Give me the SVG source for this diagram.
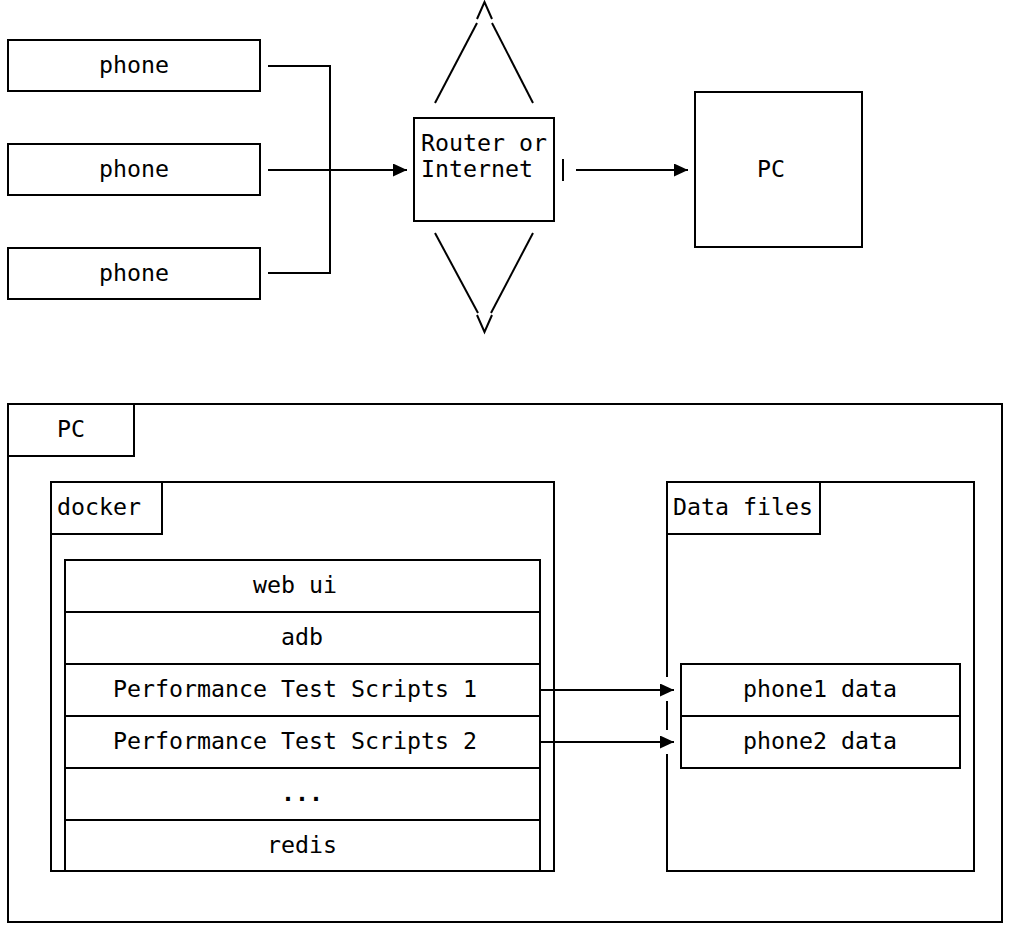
<svg xmlns="http://www.w3.org/2000/svg" width="1010" height="938" viewBox="0 0 1010 938">
  <style>
    .box { fill: none; stroke: #000; stroke-width: 2; }
    .ln { fill: none; stroke: #000; stroke-width: 2; }
    .t { font-family: "DejaVu Sans Mono", "Liberation Mono", monospace; font-size: 23.25px; fill: #000; }
    .dots { font-weight: bold; }
  </style>
  <defs>
    <marker id="arrow" markerUnits="userSpaceOnUse" viewBox="0 0 14 13" markerWidth="14" markerHeight="13" refX="14" refY="6.5" orient="auto">
      <path d="M0,0 L14,6.5 L0,13 Z" fill="#000"/>
    </marker>
  </defs>
  <rect width="1010" height="938" fill="#fff"/>

  <!-- network overview -->
  <g id="phone-a">
    <rect class="box" x="8" y="40" width="252" height="51"/>
    <text class="t" x="99" y="73">phone</text>
  </g>
  <g id="phone-b">
    <rect class="box" x="8" y="144" width="252" height="51"/>
    <text class="t" x="99" y="177">phone</text>
  </g>
  <g id="phone-c">
    <rect class="box" x="8" y="248" width="252" height="51"/>
    <text class="t" x="99" y="281">phone</text>
  </g>
  <g id="router">
    <rect class="box" x="414" y="118" width="140" height="103"/>
    <text class="t" x="421" y="151">Router or</text>
    <text class="t" x="421" y="177">Internet</text>
    <!-- upward / downward spikes -->
    <polyline class="ln" points="477,19 484.5,2 492,19"/>
    <line class="ln" x1="477" y1="23" x2="435" y2="103"/>
    <line class="ln" x1="492" y1="23" x2="533" y2="103"/>
    <line class="ln" x1="435" y1="233" x2="478" y2="313"/>
    <line class="ln" x1="533" y1="233" x2="491" y2="313"/>
    <polyline class="ln" points="477,315 484.5,332 492,315"/>
    <line class="ln" x1="563" y1="159" x2="563" y2="181"/>
  </g>
  <g id="pc-top">
    <rect class="box" x="695" y="92" width="167" height="155"/>
    <text class="t" x="757" y="177">PC</text>
  </g>

  <!-- PC internals -->
  <g id="pc">
    <rect class="box" x="8" y="404" width="994" height="518"/>
    <rect class="box" x="8" y="404" width="126" height="52"/>
    <text class="t" x="57" y="437">PC</text>
  </g>
  <g id="docker">
    <rect class="box" x="51" y="482" width="503" height="389"/>
    <rect class="box" x="51" y="482" width="111" height="52"/>
    <text class="t" x="57" y="515">docker</text>
  </g>
  <g id="docker-stack">
    <rect class="box" x="65" y="560" width="475" height="311"/>
    <line class="ln" x1="65" y1="612" x2="540" y2="612"/>
    <line class="ln" x1="65" y1="664" x2="540" y2="664"/>
    <line class="ln" x1="65" y1="716" x2="540" y2="716"/>
    <line class="ln" x1="65" y1="768" x2="540" y2="768"/>
    <line class="ln" x1="65" y1="820" x2="540" y2="820"/>
    <text class="t" x="253" y="593">web ui</text>
    <text class="t" x="281" y="645">adb</text>
    <text class="t" x="113" y="697">Performance Test Scripts 1</text>
    <text class="t" x="113" y="749">Performance Test Scripts 2</text>
    <text class="t dots" x="281" y="801">...</text>
    <text class="t" x="267" y="853">redis</text>
  </g>
  <g id="data-files">
    <line class="ln" x1="667" y1="482" x2="974" y2="482"/>
    <line class="ln" x1="974" y1="481" x2="974" y2="872"/>
    <line class="ln" x1="667" y1="871" x2="974" y2="871"/>
    <line class="ln" x1="667" y1="481" x2="667" y2="677"/>
    <line class="ln" x1="667" y1="701" x2="667" y2="730"/>
    <line class="ln" x1="667" y1="754" x2="667" y2="872"/>
    <polyline class="ln" points="667,534 820,534 820,482"/>
    <text class="t" x="673" y="515">Data files</text>
  </g>
  <g id="phone-data">
    <rect class="box" x="681" y="664" width="279" height="104"/>
    <line class="ln" x1="681" y1="716" x2="960" y2="716"/>
    <text class="t" x="743" y="697">phone1 data</text>
    <text class="t" x="743" y="749">phone2 data</text>
  </g>

  <g id="connectors">
    <polyline class="ln" points="268,66 330,66 330,273 268,273"/>
    <line class="ln" x1="268" y1="170" x2="407" y2="170" marker-end="url(#arrow)"/>
    <line class="ln" x1="576" y1="170" x2="688" y2="170" marker-end="url(#arrow)"/>
    <line class="ln" x1="540" y1="690" x2="674" y2="690" marker-end="url(#arrow)"/>
    <line class="ln" x1="540" y1="742" x2="674" y2="742" marker-end="url(#arrow)"/>
  </g>
</svg>
